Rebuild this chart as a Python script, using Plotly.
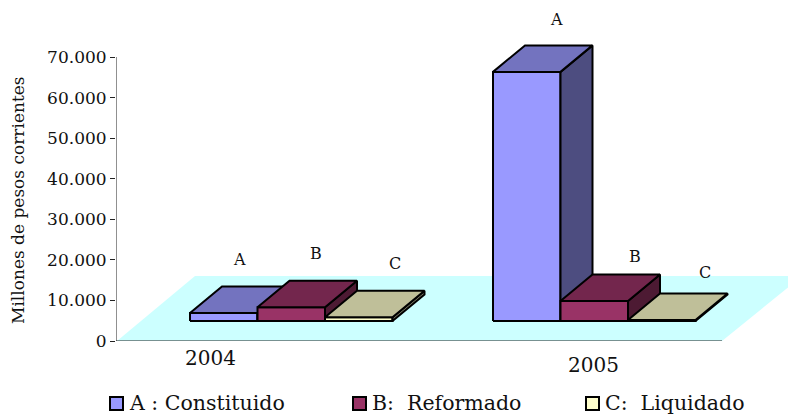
import plotly.graph_objects as go

# --- data ---
years = ["2004", "2005"]
series_names = ["A : Constituido", "B:\u00a0 Reformado", "C:\u00a0 Liquidado"]
series_a = [1970, 61400]
series_b = [3400, 4930]
series_c = [900, 250]
tick_vals = [0, 10000, 20000, 30000, 40000, 50000, 60000, 70000]
tick_text = ["0", "10.000", "20.000", "30.000", "40.000", "50.000", "60.000", "70.000"]
axis_title = "Millones de pesos corrientes"
bar_letters = ["A", "B", "C"]

front_colors = ["#9999FF", "#993366", "#FFFFCC"]
top_colors = ["#7373BF", "#73264D", "#BFBF99"]
side_colors = ["#4D4D80", "#4D1A33", "#80806A"]
floor_color = "#CCFFFF"

# --- layout geometry (pixels of the page) ---
W, H = 788, 414
AX_L, AX_B = 116, 341            # position of the axis origin
PX_PER_UNIT = 284 / 70000
Y_MAX = AX_B / PX_PER_UNIT


def X(p):
    return (p - AX_L) / (W - AX_L)


def Y(p):
    return (AX_B - p) / AX_B


def dy(px):
    return px / PX_PER_UNIT


BAR_W = 67.5
DEPTH_X = 32
DEPTH_Y = dy(26.5)
BASE_Y = dy(20)
GROUP_X = [74, 377]              # left edge of each group, x units = px from axis
FLOOR_W = 606
FLOOR_DX = 80
FLOOR_DY = dy(65)

fig = go.Figure()


def poly(xs, ys, color, width=2):
    fig.add_trace(go.Scatter(
        x=xs + xs[:1], y=ys + ys[:1], mode="lines", fill="toself", fillcolor=color,
        line=dict(color="#000000", width=width, shape="linear") if width else dict(width=0),
        hoverinfo="skip", showlegend=False,
    ))


# floor
poly([1, FLOOR_W, FLOOR_W + FLOOR_DX, 1 + FLOOR_DX - 2], [0, 0, FLOOR_DY, FLOOR_DY], floor_color, 0)

# bars
for g in range(len(years)):
    for s, values in enumerate([series_a, series_b, series_c]):
        x0 = GROUP_X[g] + s * BAR_W
        x1 = x0 + BAR_W
        top = BASE_Y + values[g]
        poly([x0, x1, x1, x0], [BASE_Y, BASE_Y, top, top], front_colors[s])
        poly([x1, x1 + DEPTH_X, x1 + DEPTH_X, x1],
             [BASE_Y, BASE_Y + DEPTH_Y, top + DEPTH_Y, top], side_colors[s])
        poly([x0, x1, x1 + DEPTH_X, x0 + DEPTH_X],
             [top, top, top + DEPTH_Y, top + DEPTH_Y], top_colors[s])

# axis lines
for xs, ys in (([0, 0], [0, 70000]), ([0, FLOOR_W], [0, 0])):
    fig.add_trace(go.Scatter(x=xs, y=ys, mode="lines", line=dict(color="#222222", width=1),
                             hoverinfo="skip", showlegend=False, cliponaxis=False))

FONT = "DejaVu Serif"
annotations = []


def text(s, px, py, size, **kw):
    annotations.append(dict(text=s, x=X(px), y=Y(py), xref="paper", yref="paper", showarrow=False,
                            font=dict(family=FONT, size=size, color="#111111"),
                            xanchor=kw.get("xanchor", "center"), yanchor="middle",
                            textangle=kw.get("angle", 0), borderpad=0, borderwidth=0))


# letters above the bars
label_px = [(239, 259), (316, 253), (395, 263), (556, 20), (635, 256), (705, 272)]
label_letters = bar_letters + bar_letters
for letter, (px, py) in zip(label_letters, label_px):
    text(letter, px, py, 16)

# year labels
text(years[0], 210, 358, 20)
text(years[1], 593, 365, 20)

# axis title
text(axis_title, 18, 200, 17, angle=-90)

# legend
shapes = []
legend_swatch_x = [110, 353, 586]
legend_text_x = [129, 372, 605]
LEG_Y = 403
for i, name in enumerate(series_names):
    sx = legend_swatch_x[i]
    shapes.append(dict(type="rect", xref="paper", yref="paper",
                       x0=X(sx), x1=X(sx + 13), y0=Y(LEG_Y + 7), y1=Y(LEG_Y - 6),
                       fillcolor=front_colors[i], line=dict(color="#000000", width=2)))
    text(name, legend_text_x[i], LEG_Y, 20.5, xanchor="left")

fig.update_layout(
    width=W, height=H, autosize=False,
    margin=dict(l=AX_L, r=0, t=0, b=H - AX_B, pad=0),
    paper_bgcolor="#FFFFFF", plot_bgcolor="#FFFFFF",
    showlegend=False,
    annotations=annotations, shapes=shapes,
    xaxis=dict(range=[0, W - AX_L], visible=False, fixedrange=True),
    yaxis=dict(range=[0, Y_MAX], tickmode="array", tickvals=tick_vals, ticktext=tick_text,
               showgrid=False, zeroline=False, showline=False, ticks="outside", ticklen=5,
               tickwidth=1, tickcolor="#222222", tickfont=dict(family=FONT, size=17, color="#111111"),
               fixedrange=True),
)

fig.write_html("out.html", config={"displayModeBar": False},
               post_script="document.body.style.margin='0';document.body.style.overflow='hidden';")
